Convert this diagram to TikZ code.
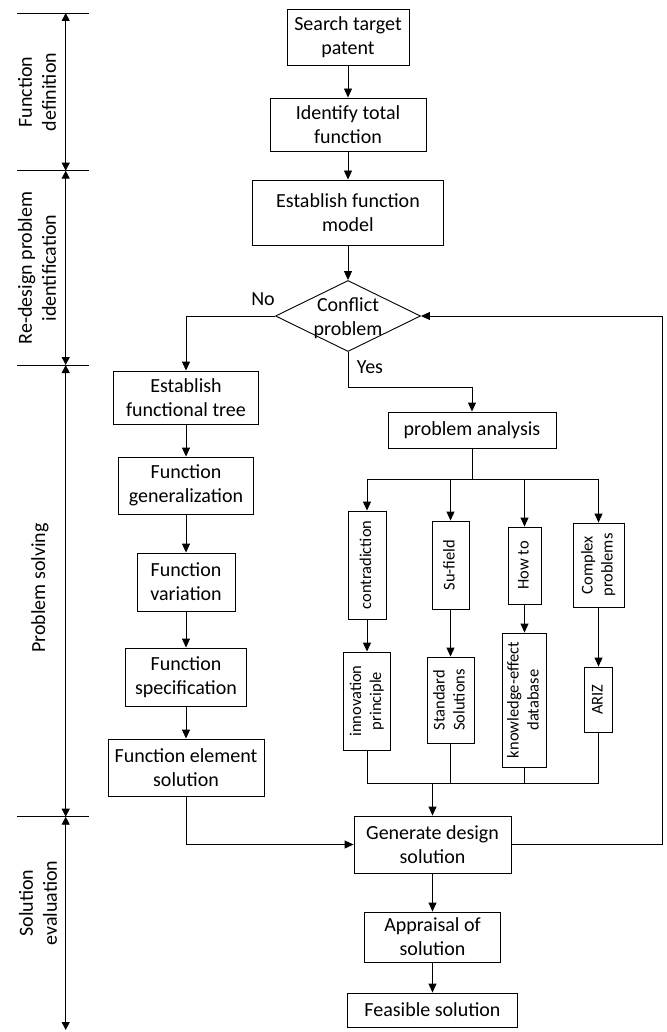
\documentclass[tikz,border=0pt]{standalone}
\usepackage{fontspec}
\setmainfont{Carlito}
\usetikzlibrary{arrows.meta,shapes.geometric}
\newcommand{\vtxt}[1]{\rotatebox{90}{\begin{tabular}{@{}c@{}}#1\end{tabular}}}
\begin{document}
\begin{tikzpicture}[x=1pt,y=-1pt,line width=0.9pt,
  box/.style={draw,rectangle,inner sep=0pt,align=center,font=\fontsize{20}{24}\selectfont},
  vbox/.style={draw,rectangle,inner sep=0pt,font=\fontsize{16.5}{20}\selectfont},
  dia/.style={draw,diamond,inner sep=0pt},
  txt/.style={inner sep=0pt,font=\fontsize{20}{24}\selectfont},
  lbl/.style={inner sep=0pt,align=center,rotate=90,font=\fontsize{20}{24}\selectfont},
  arr/.style={-{Triangle[length=9pt,width=8pt]}},
  darr/.style={{Triangle[length=8pt,width=8pt]}-{Triangle[length=8pt,width=8pt]}},
  tick/.style={line width=0.8pt}]
\path[use as bounding box,fill=white] (0,0) rectangle (666,1032);

% stage axis
\coordinate (a1) at (65.7,13);
\coordinate (a2) at (65.7,170.7);
\coordinate (a3) at (65.7,365);
\coordinate (a4) at (65.7,816.7);
\coordinate (a5) at (65.7,1030);
\foreach \y [count=\i] in {13,170.7,365,816.7}{
  \coordinate (tl\i) at (17,\y);
  \coordinate (tr\i) at (89,\y);
  \draw[tick] (tl\i) -- (tr\i);
}
\draw[darr] (a1) -- (a2);
\draw[darr] (a2) -- (a3);
\draw[darr] (a3) -- (a4);
\draw[darr] (a4) -- (a5);
\node[lbl] (s1) at (37,92) {Function\\definition};
\node[lbl] (s2) at (37,268) {Re-design problem\\identification};
\node[lbl] (s3) at (40,588) {Problem solving};
\node[lbl] (s4) at (38,903) {Solution\\evaluation};

% main column
\node[box,minimum width=122,minimum height=56] (search) at (348,37) {Search target\\patent};
\node[box,minimum width=156,minimum height=53] (ident) at (348,124.5) {Identify total\\function};
\node[box,minimum width=191,minimum height=65] (model) at (348,212.5) {Establish function\\model};
\node[dia,minimum width=145,minimum height=71,
  label={[align=center,inner sep=0pt,font=\fontsize{20}{24}\selectfont,yshift=-2pt]center:Conflict\\problem}] (conf) at (348,316) {};

% left column
\node[box,minimum width=145,minimum height=53] (tree) at (186,397.5) {Establish\\functional tree};
\node[box,minimum width=135,minimum height=57] (gener) at (186,485.5) {Function\\generalization};
\node[box,minimum width=98,minimum height=58] (vari) at (186,582) {Function\\variation};
\node[box,minimum width=121,minimum height=58] (spec) at (186,677) {Function\\specification};
\node[box,minimum width=156,minimum height=57] (elem) at (186,767.5) {Function element\\solution};

% right part
\node[box,minimum width=168,minimum height=36] (ana) at (472,430) {problem analysis};
\node[vbox,minimum width=38,minimum height=108] (contra) at (367,565) {\vtxt{contradiction}};
\node[vbox,minimum width=37,minimum height=88] (sufield) at (450.5,565) {\vtxt{Su-field}};
\node[vbox,minimum width=33,minimum height=77] (howto) at (524.5,565.5) {\vtxt{How to}};
\node[vbox,minimum width=51,minimum height=84] (complex) at (598.5,565) {\vtxt{Complex\\problems}};
\node[vbox,minimum width=47,minimum height=98] (innov) at (367,701) {\vtxt{innovation\\principle}};
\node[vbox,minimum width=47,minimum height=86] (std) at (450.5,700) {\vtxt{Standard\\Solutions}};
\node[vbox,minimum width=44,minimum height=134] (know) at (524.5,700) {\vtxt{knowledge-effect\\database}};
\node[vbox,minimum width=28,minimum height=65] (ariz) at (598.5,699.5) {\vtxt{ARIZ}};

% bottom
\node[box,minimum width=157,minimum height=57] (gen) at (432.5,844.5) {Generate design\\solution};
\node[box,minimum width=136,minimum height=50] (appr) at (432.5,937) {Appraisal of\\solution};
\node[box,minimum width=170,minimum height=34] (feas) at (432.5,1010) {Feasible solution};

% labels
\node[txt] (no) at (263,299) {No};
\node[txt] (yes) at (370,367) {Yes};

% connectors
\draw[arr] (search) -- (ident);
\draw[arr] (ident) -- (model);
\draw[arr] (model) -- (conf);
\draw[arr] (conf.west) -| (tree.north);
\coordinate (yb) at (472,387);
\draw[arr] (conf.south) |- (yb) -- (ana.north);
\coordinate (br) at (472,479);
\draw (ana.south) -- (br);
\draw[arr] (br) -| (contra.north);
\draw[arr] (br) -| (sufield.north);
\draw[arr] (br) -| (howto.north);
\draw[arr] (br) -| (complex.north);
\draw[arr] (contra) -- (innov);
\draw[arr] (sufield) -- (std);
\draw[arr] (howto) -- (know);
\draw[arr] (complex) -- (ariz);
\coordinate (mg) at (432.5,783);
\draw (innov.south) |- (mg);
\draw (std.south) |- (mg);
\draw (know.south) |- (mg);
\draw (ariz.south) |- (mg);
\draw[arr] (mg) -- (gen.north);
\draw[arr] (tree) -- (gener);
\draw[arr] (gener) -- (vari);
\draw[arr] (vari) -- (spec);
\draw[arr] (spec) -- (elem);
\draw[arr] (elem.south) |- (gen.west);
\coordinate (fb) at (662,316);
\draw[arr] (gen.east) -| (fb) -- (conf.east);
\draw[arr] (gen) -- (appr);
\draw[arr] (appr) -- (feas);
\end{tikzpicture}
\end{document}
